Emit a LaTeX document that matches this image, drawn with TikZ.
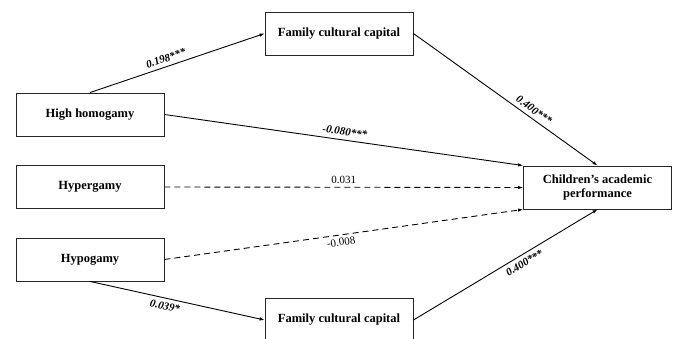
\documentclass[tikz,border=0pt]{standalone}
\usepackage{fontspec}
\setmainfont{Liberation Serif}
\usetikzlibrary{positioning,arrows.meta}

\begin{document}
\begin{tikzpicture}[x=1pt,y=-1pt,
    box/.style={rectangle,draw=black!85,line width=0.9pt,minimum width=148pt,minimum height=43pt,
        font=\fontsize{12.5}{14}\selectfont\bfseries,align=center,inner sep=2pt},
    link/.style={line width=0.9pt,-{Latex[length=5pt,width=3.5pt]}},
    nsig/.style={dash pattern=on 6pt off 4pt},
    coef/.style={font=\fontsize{11}{12}\selectfont\bfseries\itshape,sloped,inner sep=4pt},
    ns/.style={font=\fontsize{11}{12}\selectfont,sloped,inner sep=3pt}]
\clip (0,0) rectangle (675,339);
% boxes
\node[box] (fccA) at (339,33.5) {Family cultural capital};
\node[box] (high) at (90,114.5) {High homogamy};
\node[box] (hyper) at (90,187) {Hypergamy};
\node[box] (hypo) at (90,259.5) {Hypogamy};
\node[box] (fccB) at (339,320) {Family cultural capital};
\node[box] (perf) at (597.5,187.5) {Children’s academic\\performance};
% paths
\draw[link] (high.north) -- node[coef,above,pos=0.45] {0.198***} (fccA.west);
\draw[link] (fccA.east) -- node[coef,above,pos=0.63] {0.400***} (perf.north);
\draw[link] (high.east) -- node[coef,above,pos=0.5] {-0.080***} (perf.north west);
\draw[link,nsig] (hyper.east) -- node[ns,above,pos=0.5] {0.031} (perf.west);
\draw[link,nsig] (hypo.east) -- node[ns,below,pos=0.49] {-0.008} (perf.south west);
\draw[link] (hypo.south) -- node[coef,below,pos=0.44] {0.039*} (fccB.west);
\draw[link] (fccB.east) -- node[coef,below,pos=0.58] {0.400***} (perf.south);
\end{tikzpicture}
\end{document}
